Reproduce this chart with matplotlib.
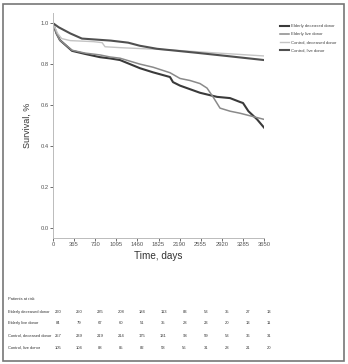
import numpy as np
import matplotlib.pyplot as plt
from matplotlib.patches import Rectangle

plt.rcParams['font.family'] = ['Liberation Sans', 'DejaVu Sans']

# survival curves (days, survival)
ed_days = [0, 60, 121, 329, 553, 813, 986, 1159, 1505, 1730, 2024, 2076, 2197, 2543, 2837, 3062, 3235, 3287, 3380, 3530, 3650]
ed_surv = [1.0, 0.95, 0.917, 0.865, 0.85, 0.834, 0.828, 0.82, 0.78, 0.76, 0.737, 0.712, 0.695, 0.66, 0.64, 0.634, 0.615, 0.61, 0.57, 0.53, 0.49]

el_days = [0, 60, 121, 329, 553, 813, 986, 1159, 1505, 1730, 2024, 2197, 2370, 2543, 2664, 2768, 2889, 3062, 3235, 3650]
el_surv = [1.0, 0.95, 0.917, 0.868, 0.854, 0.845, 0.835, 0.829, 0.80, 0.785, 0.758, 0.73, 0.72, 0.705, 0.683, 0.64, 0.585, 0.57, 0.56, 0.53]

cd_days = [0, 80, 150, 300, 700, 850, 900, 1200, 2000, 2800, 3650]
cd_surv = [1.0, 0.95, 0.925, 0.915, 0.91, 0.905, 0.885, 0.88, 0.87, 0.855, 0.84]

cl_days = [0, 100, 300, 500, 1000, 1300, 1500, 1800, 2500, 3000, 3650]
cl_surv = [1.0, 0.98, 0.95, 0.925, 0.915, 0.905, 0.89, 0.875, 0.855, 0.84, 0.82]

groups = ["Elderly deceased donor", "Elderly live donor", "Control, deceased donor", "Control, live donor"]
colors = ["#3a3a3a", "#8a8a8a", "#c4c4c4", "#505050"]
widths = [1.5, 1.1, 1.0, 1.5]

xticks = [0, 365, 730, 1095, 1460, 1825, 2190, 2555, 2920, 3285, 3650]
yticks = [0.0, 0.2, 0.4, 0.6, 0.8, 1.0]

at_risk = [
    [260, 250, 235, 208, 184, 113, 83, 53, 35, 27, 13],
    [84, 79, 67, 60, 51, 35, 28, 23, 20, 13, 11],
    [257, 239, 219, 214, 175, 131, 93, 59, 53, 36, 31],
    [105, 104, 88, 85, 82, 58, 56, 31, 28, 21, 20],
]

W, H = 348, 364
fig = plt.figure(figsize=(W / 100, H / 100), dpi=100)
fig.patches.append(Rectangle((3 / W, 3 / H), 341 / W, 357 / H, transform=fig.transFigure,
                             fill=False, edgecolor="#777777", linewidth=1.2))

ax = fig.add_axes([53 / W, 1 - 238 / H, 211 / W, 225 / H])
curves = [(ed_days, ed_surv), (el_days, el_surv), (cd_days, cd_surv), (cl_days, cl_surv)]
for (d, s), g, c, w in zip(curves, groups, colors, widths):
    ax.plot(d, s, color=c, lw=w, label=g)

ax.set_xlim(0, 3650)
ax.set_ylim(-0.05, 1.05)
ax.set_xticks(xticks)
ax.set_yticks(yticks)
ax.set_yticklabels([f"{v:.1f}" for v in yticks])
ax.tick_params(labelsize=4.2, colors="#555555", length=2, width=0.6, pad=1)
for side in ["top", "right"]:
    ax.spines[side].set_visible(False)
for side in ["left", "bottom"]:
    ax.spines[side].set_color("#bbbbbb")
    ax.spines[side].set_linewidth(0.7)
ax.set_xlabel("Time, days", fontsize=7.2, color="#333333", labelpad=3)
ax.set_ylabel("Survival, %", fontsize=6.5, color="#333333", labelpad=6)

leg = fig.legend(loc="upper left", bbox_to_anchor=(280 / W, 1 - 24 / H), frameon=False,
                 fontsize=3.1, handlelength=2.2, handletextpad=0.3, labelspacing=0.95,
                 borderaxespad=0, borderpad=0)
for t in leg.get_texts():
    t.set_color("#444444")

# patients at risk table
fig.text(8 / W, 1 - 299 / H, "Patients at risk", fontsize=2.9, color="#333333", va="center")
row_y = [312, 323, 336, 348]
for g, y, row in zip(groups, row_y, at_risk):
    fig.text(8 / W, 1 - y / H, g, fontsize=2.9, color="#333333", va="center")
    for t, n in zip(xticks, row):
        xp = 53 + t / 3650 * 211 + 5
        fig.text(xp / W, 1 - y / H, str(n), fontsize=3.0, color="#333333", va="center", ha="center")

fig.savefig("out.png", dpi=100)
